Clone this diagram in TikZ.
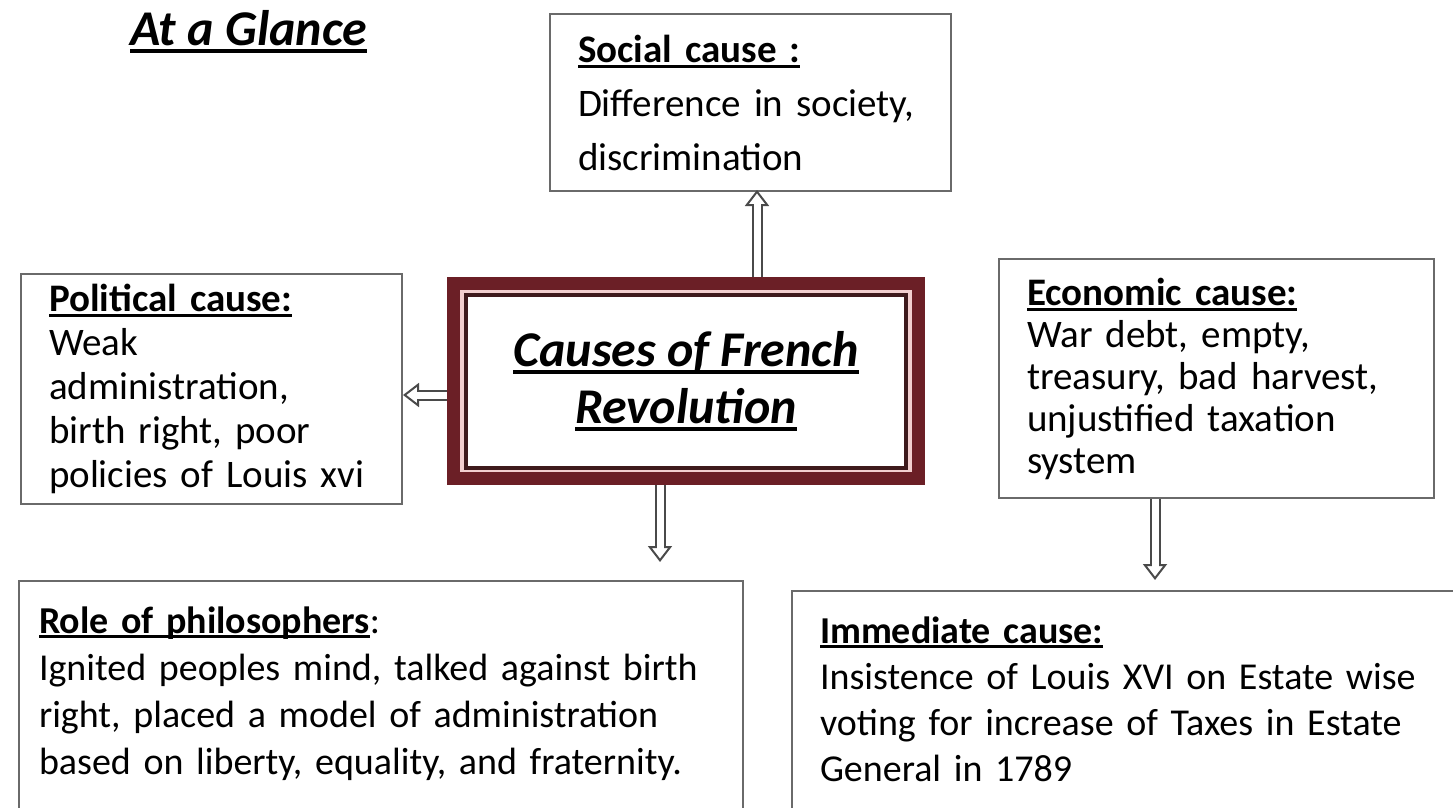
\documentclass[tikz,border=0pt]{standalone}
\usepackage{fontspec}
\setmainfont{Carlito}
\usetikzlibrary{arrows.meta}

\definecolor{boxgray}{HTML}{6A6A6A}
\definecolor{arrowgray}{HTML}{4A4A4A}
\definecolor{maroon}{HTML}{6B1F26}
\definecolor{framedark}{HTML}{3E1A1C}
\definecolor{framegap}{HTML}{F2CFCF}

% underline with a heavier rule than \underline
\newcommand{\ulhead}[1]{\setbox0\hbox{#1}\rlap{\rule[-0.14em]{\wd0}{0.075em}}\box0}
\newcommand{\causehead}[1]{\ulhead{\bfseries #1}}

\begin{document}
\begin{tikzpicture}[
    x=1pt, y=-1pt,
    causebox/.style={draw=boxgray, line width=2pt, anchor=north west, align=left,
        inner xsep=28pt, font=\fontsize{39pt}{44pt}\selectfont},
    centerbox/.style={draw=maroon, line width=13pt, fill=framegap,
        minimum width=465pt, minimum height=195pt},
    innerbox/.style={draw=framedark, line width=4pt, fill=white, align=center,
        minimum width=440pt, minimum height=173pt,
        font=\fontsize{50pt}{57pt}\selectfont\bfseries\itshape},
    blockarrow/.style={draw=arrowgray, line width=11pt,
        -{Triangle[open, length=16pt, width=24pt, line width=2pt]},
        postaction={draw=white, line width=7pt, -, shorten >=10pt}}
]
\clip (0,0) rectangle (1453,808);

% title
\node (title) [anchor=base west, inner sep=0pt,
    font=\fontsize{50pt}{50pt}\selectfont\bfseries\itshape] at (130,46) {\ulhead{At a Glance}};

% centre
\node (cause) [centerbox] at (686,381) {};
\node (causein) [innerbox] at (cause.center) {\ulhead{Causes of French}\\\ulhead{Revolution}};

% the five causes
\node (social) [causebox, minimum width=401pt, minimum height=177pt, text width=345pt,
    font=\fontsize{39pt}{54pt}\selectfont] at (549,13)
    {\causehead{Social cause :}\\Difference in society,\\discrimination};
\node (political) [causebox, minimum width=381pt, minimum height=230pt, text width=325pt] at (20,273)
    {\causehead{Political cause:}\\ Weak\\ administration,\\ birth right, poor\\ policies of Louis xvi};
\node (economic) [causebox, minimum width=435pt, minimum height=239pt, text width=379pt,
    font=\fontsize{39pt}{42pt}\selectfont] at (998,258)
    {\causehead{Economic cause:}\\War debt, empty,\\treasury, bad harvest,\\unjustified taxation\\system};
\node (philosophers) [causebox, inner xsep=20pt, inner ysep=26pt, text height=26pt, text depth=250pt,
    minimum width=724pt, text width=684pt, font=\fontsize{38pt}{47pt}\selectfont] at (18,580)
    {\causehead{Role of philosophers}:\\Ignited peoples mind, talked against birth\\right, placed a model of administration\\based on liberty, equality, and fraternity.};
\node (immediate) [causebox, inner ysep=26pt, text height=26pt, text depth=250pt,
    minimum width=656pt, text width=620pt, font=\fontsize{38pt}{46pt}\selectfont] at (791,590)
    {\causehead{Immediate cause:}\\Insistence of Louis XVI on Estate wise\\voting for increase of Taxes in Estate\\General in 1789};

% arrow ends
\coordinate (socialtip) at (757,190);
\coordinate (polittip) at (403,395);
\coordinate (philtip) at (660,562);
\coordinate (immtip) at (1155,580);

% arrows
\draw[blockarrow] (cause.north -| socialtip) -- (socialtip);
\draw[blockarrow] (cause.west |- polittip) -- (polittip);
\draw[blockarrow] (cause.south -| philtip) -- (philtip);
\draw[blockarrow] (economic.south -| immtip) -- (immtip);

\end{tikzpicture}
\end{document}
